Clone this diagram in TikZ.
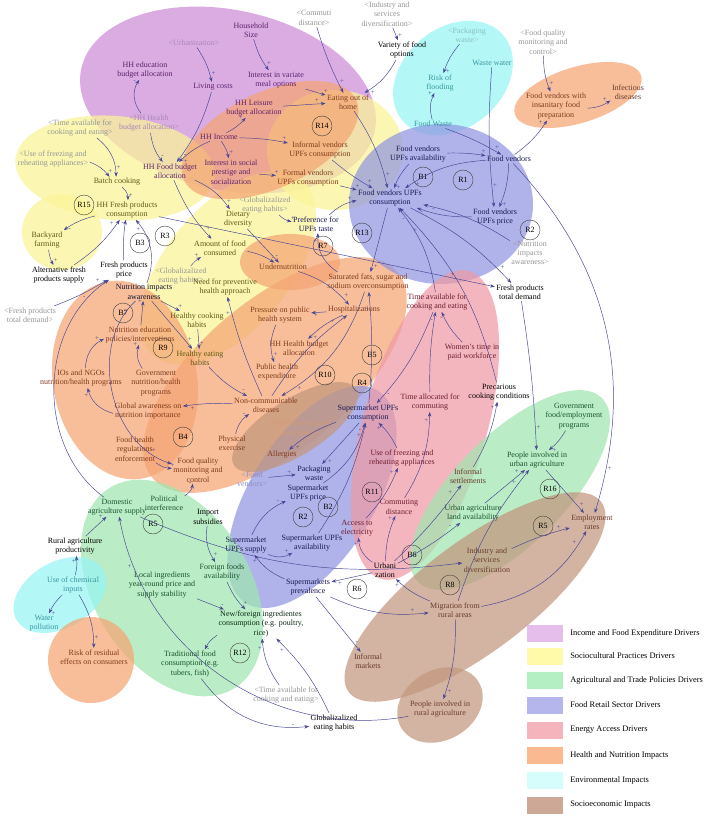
\documentclass[tikz,border=0pt]{standalone}
\usepackage{fontspec}
\setmainfont{Liberation Serif}
\usetikzlibrary{arrows.meta}
\definecolor{cP}{RGB}{205,140,215}
\definecolor{cY}{RGB}{250,245,150}
\definecolor{cG}{RGB}{160,230,175}
\definecolor{cB}{RGB}{145,150,225}
\definecolor{cK}{RGB}{240,155,165}
\definecolor{cO}{RGB}{245,165,115}
\definecolor{cC}{RGB}{150,245,245}
\definecolor{cR}{RGB}{195,150,125}
\definecolor{lP}{RGB}{230,190,235}
\definecolor{lY}{RGB}{255,250,170}
\definecolor{lG}{RGB}{180,238,195}
\definecolor{lB}{RGB}{180,182,236}
\definecolor{lK}{RGB}{245,180,188}
\definecolor{lO}{RGB}{250,185,145}
\definecolor{lC}{RGB}{215,252,252}
\definecolor{lR}{RGB}{205,168,150}
\definecolor{tP}{RGB}{95,35,110}
\definecolor{tY}{RGB}{95,90,20}
\definecolor{tO}{RGB}{130,60,30}
\definecolor{tB}{RGB}{25,25,85}
\definecolor{tK}{RGB}{110,30,50}
\definecolor{tG}{RGB}{25,85,45}
\definecolor{tR}{RGB}{105,60,45}
\definecolor{tC}{RGB}{60,150,160}
\definecolor{gh}{RGB}{150,150,150}
\definecolor{ghP}{RGB}{170,135,185}
\definecolor{arr}{RGB}{70,70,150}
\tikzset{
 v/.style={font=\fontsize{6}{7}\selectfont, align=center, inner sep=1pt},
 ar/.style={-{Stealth[length=3.5pt,width=2.6pt]}, draw=arr, line width=0.35pt},
 pol/.style={font=\fontsize{5}{5}\selectfont, inner sep=0.6pt, text=arr},
 lp/.style={draw=black!75, line width=0.3pt, circle, minimum size=15pt, inner sep=0pt, font=\fontsize{6}{6}\selectfont},
 legtxt/.style={font=\fontsize{6.3}{8}\selectfont, anchor=west, inner sep=0pt},
}
\newcommand\myzone[6]{\fill[#1, fill opacity=0.72, rotate around={#6:(#2,#3)}] (#2,#3) ellipse [x radius=#4, y radius=#5];}
\newcommand\lnk[4]{\draw[ar] (#2) to[#1] node[pol,pos=.88,auto]{#4} (#3);}
\begin{document}
\begin{tikzpicture}[x=0.75pt,y=-0.75pt]
\useasboundingbox (0,0) rectangle (708,816);
\fill[white] (0,0) rectangle (708,816);
% zones
\myzone{cP}{228}{100}{150}{90}{-12}
\myzone{cC}{453}{78}{66}{50}{40}
\myzone{cO}{578}{95}{66}{28}{17}
\myzone{cY}{115}{168}{100}{52}{-5}
\myzone{cY}{62}{232}{40}{38}{0}
\myzone{cY}{335}{150}{68}{60}{0}
\myzone{cY}{228}{268}{115}{62}{50}
\myzone{cO}{270}{140}{95}{48}{25}
\myzone{cO}{290}{262}{50}{28}{0}
\myzone{cO}{125}{380}{72}{100}{10}
\myzone{cO}{275}{375}{160}{75}{40}
\myzone{cB}{441}{204}{92}{80}{0}
\myzone{cB}{312}{497}{125}{62}{58}
\myzone{cR}{295}{427}{72}{28}{32}
\myzone{cK}{425}{425}{160}{62}{74}
\myzone{cG}{172}{588}{118}{78}{-58}
\myzone{cG}{510}{490}{130}{55}{45}
\myzone{cR}{475}{597}{158}{55}{37}
\myzone{cR}{440}{705}{45}{35}{30}
\myzone{cC}{60}{595}{50}{33}{30}
\myzone{cO}{91}{660}{43}{43}{0}
% nodes
\node[v,text=tP] (hs) at (251,30) {Household\\Size};
\node[v,text=ghP] (urbg) at (194,43) {<Urbanization>};
\node[v,text=tP] (hhedu) at (145,70) {HH education\\budget allocation};
\node[v,text=tP] (living) at (213,87) {Living costs};
\node[v,text=tP] (intvar) at (276,80) {Interest in variate\\meal options};
\node[v,text=tP] (leisure) at (254,108) {HH Leisure\\budget allocation};
\node[v,text=tP] (income) at (219,137) {HH Income};
\node[v,text=ghP] (hhealthg) at (149,123) {<HH Health\\budget allocation>};
\node[v,text=gh] (timeg1) at (80,128) {<Time available for\\cooking and eating>};
\node[v,text=gh] (freezeg) at (53,159) {<Use of freezing and\\reheating appliances>};
\node[v,text=tP] (foodbud) at (170,171) {HH Food budget\\allocation};
\node[v,text=tP] (social) at (231,172) {Interest in social\\prestige and\\socialization};
\node[v,text=tY] (batch) at (117,182) {Batch cooking};
\node[v,text=tO] (eatout) at (348,102) {Eating out of\\home};
\node[v,text=tO] (informal) at (320,150) {Informal vendors\\UPFs consumption};
\node[v,text=tO] (formal) at (308,178) {Formal vendors\\UPFs consumption};
\node[v,text=gh] (commg) at (314,18) {<Commuti\\distance>};
\node[v,text=gh] (indg) at (387,14) {<Industry and\\services\\diversification>};
\node[v] (variety) at (402,50) {Variety of food\\options};
\node[v,text=cC!55!gray] (packg) at (467,35) {<Packaging\\waste>};
\node[v,text=tC] (flood) at (440,83) {Risk of\\flooding};
\node[v,text=tC] (wwater) at (492,63) {Waste water};
\node[v,text=gh] (fqmg) at (543,42) {<Food quality\\monitoring and\\control>};
\node[v,text=tO] (insan) at (556,106) {Food vendors with\\insanitary food\\preparation};
\node[v,text=tR] (infect) at (628,92) {Infectious\\diseases};
\node[v,text=tC] (fwaste) at (433,124) {Food Waste};
\node[v,text=tB] (fvavail) at (418,154) {Food vendors\\UPFs availability};
\node[v,text=tB] (fvendors) at (509,159) {Food vendors};
\node[v,text=tB] (fvcons) at (390,198) {Food vendors UPFs\\consumption};
\node[v,text=tB] (fvprice) at (495,217) {Food vendors\\UPFs price};
\node[v,text=gh] (globg1) at (265,205) {<Globalizalized\\eating habits>};
\node[v,text=gh] (nutg1) at (530,253) {<Nutrition\\impacts\\awareness>};
\node[v,text=tB] (pref) at (316,224) {Preference for\\UPFs taste};
\node[v,text=tY] (dietary) at (238,219) {Dietary\\diversity};
\node[v,text=tY] (hhfresh) at (127,210) {HH Fresh products\\consumption};
\node[v,text=tY] (backyard) at (47,240) {Backyard\\farming};
\node[v] (altfresh) at (59,275) {Alternative fresh\\products supply};
\node[v] (fprice) at (124,270) {Fresh products\\price};
\node[v,text=tY] (amount) at (220,248) {Amount of food\\consumed};
\node[v,text=gh] (globg2) at (181,276) {<Globalizalized\\eating habits>};
\node[v,text=tY] (needprev) at (225,287) {Need for preventive\\health approach};
\node[v,text=tO] (undernut) at (283,267) {Undernutrition};
\node[v] (ftotal) at (520,292) {Fresh products\\total demand};
\node[v,text=gh] (ftotalg) at (30,315) {<Fresh products\\total demand>};
\node[v,text=tB!60!black] (nutaware) at (144,292) {Nutrition impacts\\awareness};
\node[v,text=tY] (hcook) at (197,320) {Healthy cooking\\habits};
\node[v,text=tO] (satfat) at (368,282) {Saturated fats, sugar and\\sodium overconsumption};
\node[v,text=tO] (pressure) at (280,315) {Pressure on public\\health system};
\node[v,text=tO] (hosp) at (354,310) {Hospitalizations};
\node[v,text=tK] (timeavail) at (437,302) {Time available for\\cooking and eating};
\node[v,text=tO] (nuted) at (140,335) {Nutrition education\\policies/interventions};
\node[v,text=tY] (heat) at (200,358) {Healthy eating\\habits};
\node[v,text=tO] (hhhealth) at (299,348) {HH Health budget\\allocation};
\node[v,text=tK] (women) at (472,352) {Women's time in\\paid workforce};
\node[v,text=tO] (iongo) at (81,378) {IOs and NGOs\\nutrition/health programs};
\node[v,text=tO] (govnut) at (156,383) {Government\\nutrition/health\\programs};
\node[v,text=tO] (pubexp) at (277,372) {Public health\\expenditure};
\node[v,text=tO] (globaw) at (148,411) {Global awareness on\\nutrition importance};
\node[v,text=tO] (ncd) at (266,405) {Non-communicable\\diseases};
\node[v,text=tK] (timecomm) at (430,402) {Time allocated for\\commuting};
\node[v] (precar) at (499,392) {Precarious\\cooking conditions};
\node[v,text=tO] (fhealth) at (135,449) {Food health\\regulations\\enforcement};
\node[v,text=tO] (physex) at (232,443) {Physical\\exercise};
\node[v,text=cO!70!gray] (nutg2) at (300,428) {<Nutrition impacts\\awareness>};
\node[v,text=tB] (supcons) at (368,413) {Supermarket UPFs\\consumption};
\node[v,text=tO] (allerg) at (282,455) {Allergies};
\node[v,text=tK] (usefreeze) at (402,458) {Use of freezing and\\reheating appliances};
\node[v,text=tG] (govfood) at (574,416) {Government\\food/employment\\programs};
\node[v,text=tO] (fqm) at (198,470) {Food quality\\monitoring and\\control};
\node[v,text=tB] (packw) at (314,473) {Packaging\\waste};
\node[v,text=cB!70!gray] (fvendg) at (252,479) {<Food\\vendors>};
\node[v,text=tR] (informset) at (468,476) {Informal\\settlements};
\node[v,text=tG] (peopleurb) at (537,460) {People involved in\\urban agriculture};
\node[v,text=tG] (polint) at (164,503) {Political\\interference};
\node[v,text=tG] (domagri) at (117,507) {Domestic\\agriculture supply};
\node[v] (importsub) at (208,517) {Import\\subsidies};
\node[v,text=tB] (supprice) at (308,493) {Supermarket\\UPFs price};
\node[v,text=tK] (commdist) at (399,507) {Commuting\\distance};
\node[v,text=tK] (access) at (357,528) {Access to\\electricity};
\node[v,text=tG] (urbland) at (473,513) {Urban agriculture\\land availability};
\node[v,text=tR] (employ) at (592,522) {Employment\\rates};
\node[v] (rural) at (75,546) {Rural agriculture\\productivity};
\node[v,text=tB] (supsupply) at (246,545) {Supermarket\\UPFs supply};
\node[v,text=tG] (foreign) at (222,572) {Foreign foods\\availability};
\node[v,text=tB] (supavail) at (312,543) {Supermarket UPFs\\availability};
\node[v] (urban) at (385,570) {Urbani\\zation};
\node[v,text=tR] (industry) at (487,560) {Industry and\\services\\diversification};
\node[v,text=tG] (local) at (162,585) {Local ingredients\\year-round price and\\supply stability};
\node[v,text=tB] (supprev) at (308,587) {Supermarkets\\prevalence};
\node[v,text=tC] (chem) at (73,585) {Use of chemical\\inputs};
\node[v,text=tC] (waterpol) at (44,623) {Water\\pollution};
\node[v,text=tG!50!black] (newforeign) at (261,624) {New/foreign ingredientes\\consumption (e.g. poultry,\\rice)};
\node[v,text=tR] (migration) at (455,610) {Migration from\\rural areas};
\node[v,text=tR] (infmarket) at (368,661) {Informal\\markets};
\node[v,text=tO] (residual) at (94,657) {Risk of residual\\effects on consumers};
\node[v,text=tG] (traditional) at (190,664) {Traditional food\\consumption (e.g.\\tubers, fish)};
\node[v,text=gh] (timeg2) at (286,695) {<Time available for\\cooking and eating>};
\node[v] (globeat) at (334,723) {Globalizalized\\eating habits};
\node[v,text=tR] (peoplerural) at (440,709) {People involved in\\rural agriculture};
% loops
\node[lp] (l1) at (322,126) {R14};
\node[lp] (l2) at (423,177) {B1};
\node[lp] (l3) at (463,180) {R1};
\node[lp] (l4) at (530,230) {R2};
\node[lp] (l5) at (84,205) {R15};
\node[lp] (l6) at (140,243) {B3};
\node[lp] (l7) at (165,236) {R3};
\node[lp] (l8) at (323,246) {R7};
\node[lp] (l9) at (362,233) {R13};
\node[lp] (l10) at (123,313) {B7};
\node[lp] (l11) at (163,348) {R9};
\node[lp] (l12) at (325,375) {R10};
\node[lp] (l13) at (372,355) {B5};
\node[lp] (l14) at (362,383) {R4};
\node[lp] (l15) at (183,437) {B4};
\node[lp] (l16) at (372,492) {R11};
\node[lp] (l17) at (550,489) {R16};
\node[lp] (l18) at (153,524) {R5};
\node[lp] (l19) at (328,507) {B2};
\node[lp] (l20) at (303,517) {R2};
\node[lp] (l21) at (412,555) {B6};
\node[lp] (l22) at (543,526) {R5};
\node[lp] (l23) at (357,589) {R6};
\node[lp] (l24) at (450,585) {R8};
\node[lp] (l25) at (240,653) {R12};
% links
\lnk{bend right=10}{hs}{intvar}{+}
\lnk{bend left=10}{urbg}{living}{+}
\lnk{bend left=35}{hhealthg}{hhedu}{-}
\lnk{bend right=15}{hhealthg}{foodbud}{-}
\lnk{bend left=10}{living}{foodbud}{-}
\lnk{bend right=10}{income}{foodbud}{+}
\lnk{bend right=10}{income}{leisure}{+}
\lnk{bend left=10}{income}{social}{+}
\lnk{bend left=0}{intvar}{eatout}{+}
\lnk{bend left=0}{leisure}{eatout}{+}
\lnk{bend left=5}{income}{informal}{+}
\lnk{bend left=0}{social}{formal}{+}
\lnk{bend right=5}{commg}{eatout}{+}
\lnk{bend left=0}{indg}{variety}{+}
\lnk{bend left=15}{variety}{eatout}{+}
\lnk{bend left=10}{eatout}{fvcons}{+}
\lnk{bend right=5}{informal}{fvcons}{+}
\lnk{bend left=0}{formal}{fvcons}{+}
\lnk{bend left=15}{foodbud}{dietary}{+}
\lnk{bend right=10}{foodbud}{amount}{+}
\lnk{bend left=25}{timeg1}{batch}{+}
\lnk{bend left=15}{freezeg}{batch}{+}
\lnk{bend left=25}{batch}{hhfresh}{+}
\lnk{bend right=10}{hhfresh}{backyard}{-}
\lnk{bend right=10}{backyard}{altfresh}{+}
\lnk{bend right=10}{altfresh}{hhfresh}{+}
\lnk{bend left=5}{fprice}{hhfresh}{-}
\lnk{bend right=30}{nutaware}{hhfresh}{+}
\lnk{bend right=5}{ftotalg}{fprice}{+}
\lnk{bend left=0}{hhfresh}{ftotal}{+}
\lnk{bend left=10}{fvcons}{ftotal}{+}
\lnk{bend left=55}{domagri}{fprice}{-}
\lnk{bend right=60}{nutaware}{fqm}{+}
\lnk{bend left=10}{amount}{undernut}{-}
\lnk{bend left=0}{dietary}{undernut}{-}
\lnk{bend left=10}{globg2}{amount}{+}
\lnk{bend right=15}{globg1}{pref}{+}
\lnk{bend left=15}{pref}{fvcons}{+}
\lnk{bend left=30}{satfat}{pref}{+}
\lnk{bend left=0}{fvcons}{satfat}{+}
\lnk{bend right=5}{supcons}{satfat}{+}
\lnk{bend left=20}{satfat}{ncd}{+}
\lnk{bend left=10}{ncd}{hosp}{+}
\lnk{bend left=15}{undernut}{hosp}{+}
\lnk{bend left=0}{hosp}{pressure}{+}
\lnk{bend right=20}{pressure}{pubexp}{+}
\lnk{bend right=10}{hosp}{hhhealth}{+}
\lnk{bend left=0}{nutaware}{hcook}{+}
\lnk{bend left=0}{hcook}{heat}{+}
\lnk{bend left=0}{nutaware}{heat}{+}
\lnk{bend right=10}{heat}{ncd}{-}
\lnk{bend left=5}{ncd}{needprev}{+}
\lnk{bend left=0}{nuted}{nutaware}{+}
\lnk{bend left=30}{iongo}{nuted}{+}
\lnk{bend left=25}{govnut}{nuted}{+}
\lnk{bend right=5}{ncd}{globaw}{+}
\lnk{bend left=30}{globaw}{iongo}{+}
\lnk{bend left=20}{physex}{ncd}{-}
\lnk{bend right=15}{fhealth}{fqm}{+}
\lnk{bend right=25}{polint}{fqm}{-}
\lnk{bend right=10}{supcons}{allerg}{+}
\lnk{bend left=0}{supcons}{packw}{+}
\lnk{bend left=0}{fvendg}{packw}{+}
\lnk{bend right=10}{usefreeze}{supcons}{+}
\lnk{bend left=5}{timecomm}{timeavail}{-}
\lnk{bend left=10}{women}{timeavail}{-}
\lnk{bend left=10}{timeavail}{supcons}{-}
\lnk{bend right=15}{timeavail}{fvcons}{-}
\lnk{bend right=15}{commdist}{timecomm}{+}
\lnk{bend left=10}{urban}{commdist}{+}
\lnk{bend left=25}{urban}{access}{+}
\lnk{bend right=10}{access}{usefreeze}{+}
\lnk{bend right=5}{urban}{informset}{+}
\lnk{bend right=5}{urban}{urbland}{-}
\lnk{bend left=0}{urbland}{peopleurb}{+}
\lnk{bend right=10}{informset}{precar}{+}
\lnk{bend left=10}{govfood}{peopleurb}{+}
\lnk{bend left=0}{peopleurb}{employ}{+}
\lnk{bend left=5}{industry}{employ}{+}
\lnk{bend right=25}{migration}{employ}{+}
\lnk{bend left=10}{migration}{urban}{+}
\lnk{bend left=10}{migration}{peoplerural}{+}
\lnk{bend left=30}{fvendors}{employ}{+}
\lnk{bend left=0}{urban}{supprev}{+}
\lnk{bend left=15}{supprev}{supsupply}{+}
\lnk{bend left=20}{supsupply}{supprice}{-}
\lnk{bend right=10}{supavail}{supcons}{+}
\lnk{bend right=20}{supprice}{supcons}{-}
\lnk{bend right=25}{supsupply}{supavail}{+}
\lnk{bend left=0}{supprev}{infmarket}{-}
\lnk{bend right=15}{supprev}{migration}{+}
\lnk{bend right=15}{domagri}{industry}{-}
\lnk{bend right=20}{importsub}{foreign}{+}
\lnk{bend right=10}{foreign}{newforeign}{+}
\lnk{bend left=0}{local}{newforeign}{-}
\lnk{bend right=15}{newforeign}{traditional}{-}
\lnk{bend right=30}{traditional}{globeat}{-}
\lnk{bend left=15}{timeg2}{newforeign}{+}
\lnk{bend right=10}{globeat}{newforeign}{+}
\lnk{bend left=0}{rural}{domagri}{+}
\lnk{bend right=10}{chem}{rural}{+}
\lnk{bend right=10}{chem}{waterpol}{+}
\lnk{bend left=15}{chem}{residual}{+}
\lnk{bend left=45}{peoplerural}{domagri}{+}
\lnk{bend left=20}{fwaste}{flood}{+}
\lnk{bend right=10}{packg}{flood}{+}
\lnk{bend right=5}{wwater}{fvprice}{+}
\lnk{bend right=10}{fqmg}{insan}{+}
\lnk{bend right=10}{fvendors}{insan}{+}
\lnk{bend right=15}{insan}{infect}{+}
\lnk{bend right=10}{fvavail}{fvcons}{+}
\lnk{bend left=5}{fvavail}{fvendors}{+}
\lnk{bend left=5}{fwaste}{fvendors}{+}
\lnk{bend right=15}{fvendors}{fvcons}{+}
\lnk{bend left=10}{fvendors}{fvprice}{+}
\lnk{bend left=10}{fvprice}{fvcons}{-}
\lnk{bend right=10}{nutg1}{fvcons}{-}
\lnk{bend right=15}{precar}{fvcons}{+}
\lnk{bend left=3}{ftotal}{peopleurb}{+}
\lnk{bend left=10}{migration}{peopleurb}{+}
% legend
\foreach \yy/\cc/\tt in {633/lP/Income and Food Expenditure Drivers,656/lY/Sociocultural Practices Drivers,680/lG/Agricultural and Trade Policies Drivers,705/lB/Food Retail Sector Drivers,730/lK/Energy Access Drivers,755/lO/Health and Nutrition Impacts,780/lC/Environmental Impacts,805/lR/Socioeconomic Impacts}{
  \fill[\cc] (527,\yy-8.5) rectangle (563,\yy+8.5);
  \node[legtxt] at (570,\yy) {\tt};
}
\end{tikzpicture}
\end{document}
